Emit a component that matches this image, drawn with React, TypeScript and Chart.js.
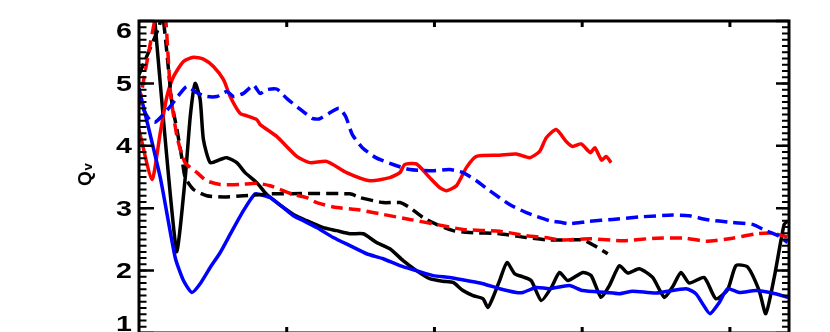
import React, { useEffect, useRef } from "react";
import { Chart, registerables } from "chart.js";

Chart.register(...registerables);

// ---- axis ticks ----
const X_MIN = 0;
const X_MAX = 440;
const Y_MIN = 1;
const Y_MAX = 6;
const X_MAJOR_TICKS = [100, 200, 300, 400];
const Y_MAJOR_TICKS = [1, 2, 3, 4, 5, 6];
const Y_TICK_LABELS = ["1", "2", "3", "4", "5", "6"];
const Y_MINOR_STEP = 0.1;

// ---- series: black solid ----
const blackSolidX = [0, 25.2, 31.3, 34.7, 38.0, 41.4, 43.6, 48.2, 55.0, 59.5, 66.2, 71.8, 79.7, 86.5, 104.5, 113.5, 124.7, 133.8, 142.8, 151.8, 160.8, 169.8, 178.8, 187.8, 196.8, 205.8, 212.6, 219.3, 226.1, 232.8, 236.2, 239.6, 244.1, 249.1, 254.3, 259.9, 265.5, 272.3, 279.1, 284.7, 290.3, 300.4, 306.1, 312.8, 318.4, 325.2, 330.8, 338.7, 347.7, 355.6, 361.2, 366.9, 372.5, 382.6, 390.5, 398.4, 404.1, 411.9, 419.8, 424.3, 430.0, 436.7, 439.4];
const blackSolidY = [9.0, 2.32, 3.49, 4.47, 5.0, 4.74, 4.10, 3.73, 3.78, 3.81, 3.73, 3.57, 3.41, 3.22, 2.90, 2.80, 2.69, 2.64, 2.59, 2.59, 2.45, 2.35, 2.16, 2.00, 1.87, 1.83, 1.81, 1.68, 1.60, 1.55, 1.41, 1.57, 1.84, 2.13, 1.95, 1.90, 1.84, 1.52, 1.73, 1.97, 1.84, 1.97, 1.92, 1.57, 1.76, 2.08, 1.96, 2.03, 1.89, 1.57, 1.74, 1.97, 1.80, 1.89, 1.55, 1.69, 2.08, 2.06, 1.68, 1.31, 1.89, 2.74, 2.80];

// ---- series: black dashed ----
const blackDashX = [0, 13.3, 16.0, 22.3, 25.7, 29.2, 31.3, 36.9, 45.9, 57.2, 70.7, 84.3, 88.7, 142.8, 149.5, 165.3, 176.6, 183.3, 192.3, 201.4, 212.6, 223.9, 244.1, 262.2, 277.9, 300.4, 308.3, 317.3];
const blackDashY = [5.14, 5.89, 6.1, 4.68, 4.26, 3.78, 3.49, 3.30, 3.20, 3.18, 3.20, 3.22, 3.23, 3.23, 3.17, 3.09, 3.09, 3.01, 2.85, 2.74, 2.64, 2.61, 2.59, 2.53, 2.49, 2.49, 2.40, 2.27];

// ---- series: red solid ----
const redSolidX = [0, 8.8, 14.4, 18.9, 23.4, 30.1, 36.9, 43.6, 50.4, 57.2, 61.7, 68.4, 73.0, 79.7, 82.0, 93.2, 106.8, 115.7, 127.0, 140.5, 156.3, 169.8, 176.6, 179.9, 187.8, 196.8, 203.6, 208.1, 214.9, 221.6, 228.4, 244.1, 255.4, 264.4, 271.2, 275.7, 282.4, 289.2, 293.6, 299.3, 305.6, 308.6, 313.2, 316.2, 319.6];
const redSolidY = [4.26, 3.46, 4.21, 4.79, 5.11, 5.35, 5.42, 5.39, 5.27, 5.06, 4.79, 4.52, 4.48, 4.42, 4.34, 4.15, 3.83, 3.73, 3.75, 3.57, 3.44, 3.49, 3.57, 3.70, 3.71, 3.49, 3.33, 3.28, 3.36, 3.65, 3.83, 3.85, 3.87, 3.81, 3.91, 4.13, 4.26, 4.07, 3.99, 4.03, 3.89, 3.97, 3.77, 3.83, 3.73];

// ---- series: red dashed ----
const redDashX = [0, 15.7, 21.4, 25.7, 31.2, 39.3, 45.7, 55.0, 68.4, 79.7, 88.7, 104.5, 113.5, 120.3, 131.5, 149.5, 165.3, 183.3, 199.1, 219.3, 244.1, 262.2, 277.9, 284.7, 305.6, 327.4, 350.0, 369.9, 383.8, 401.8, 417.6, 428.8, 438.9];
const redDashY = [4.65, 6.5, 4.84, 4.15, 3.73, 3.57, 3.44, 3.38, 3.38, 3.40, 3.36, 3.22, 3.17, 3.09, 3.02, 2.97, 2.90, 2.82, 2.75, 2.66, 2.63, 2.56, 2.52, 2.49, 2.51, 2.48, 2.52, 2.52, 2.47, 2.52, 2.59, 2.60, 2.54];

// ---- series: blue solid ----
const blueSolidX = [0, 14.4, 24.5, 30.1, 35.8, 41.4, 48.2, 55.0, 61.7, 70.7, 78.6, 82.0, 88.7, 97.7, 104.5, 111.2, 120.3, 131.5, 142.8, 154.1, 165.3, 176.6, 187.8, 199.1, 210.3, 221.6, 232.8, 244.1, 255.4, 259.9, 268.9, 277.9, 291.4, 300.4, 316.2, 325.2, 334.2, 350.0, 370.3, 377.0, 381.5, 386.5, 392.8, 398.4, 406.3, 417.6, 428.8, 439.4];
const blueSolidY = [4.92, 3.49, 2.21, 1.84, 1.65, 1.79, 2.05, 2.29, 2.58, 2.96, 3.23, 3.22, 3.17, 3.01, 2.88, 2.80, 2.69, 2.53, 2.40, 2.27, 2.19, 2.08, 2.00, 1.92, 1.89, 1.84, 1.79, 1.71, 1.65, 1.65, 1.73, 1.71, 1.76, 1.68, 1.65, 1.63, 1.67, 1.64, 1.71, 1.63, 1.47, 1.31, 1.49, 1.71, 1.65, 1.68, 1.64, 1.57];

// ---- series: blue dashed ----
const blueDashX = [0, 2.3, 7.6, 11.0, 14.4, 21.1, 27.9, 32.4, 39.2, 45.9, 52.7, 59.5, 64.0, 70.7, 77.5, 82.0, 86.5, 93.2, 100.0, 108.3, 117.3, 121.8, 128.6, 135.4, 139.9, 144.4, 151.2, 160.3, 172.0, 183.3, 199.1, 210.3, 219.3, 228.4, 237.4, 250.9, 262.2, 277.9, 286.3, 291.4, 304.9, 320.6, 338.7, 361.2, 372.5, 383.8, 401.8, 415.3, 424.3, 433.3, 438.9];
const blueDashY = [4.87, 4.62, 4.40, 4.38, 4.45, 4.63, 4.84, 4.95, 4.85, 4.79, 4.79, 4.87, 4.79, 4.84, 4.97, 4.84, 4.90, 4.91, 4.76, 4.60, 4.44, 4.43, 4.52, 4.60, 4.47, 4.18, 3.97, 3.81, 3.70, 3.62, 3.60, 3.62, 3.57, 3.44, 3.28, 3.06, 2.93, 2.80, 2.77, 2.75, 2.79, 2.82, 2.86, 2.89, 2.88, 2.82, 2.77, 2.74, 2.64, 2.55, 2.45];

const toPoints = (xs: number[], ys: number[]) => xs.map((x, i) => ({ x, y: ys[i] }));

const framePlugin = {
  id: "idlFrame",
  afterDatasetsDraw(chart: any) {
    const { ctx, chartArea } = chart;
    const xs = chart.scales.x;
    const ys = chart.scales.y;
    const { left, right, top, bottom } = chartArea;
    ctx.save();
    ctx.strokeStyle = "#000";
    ctx.fillStyle = "#000";
    // frame
    ctx.lineWidth = 3;
    ctx.strokeRect(left, top, right - left, bottom - top);
    // y minor ticks
    ctx.lineWidth = 2;
    ctx.beginPath();
    const nMinor = Math.round((Y_MAX - Y_MIN) / Y_MINOR_STEP);
    for (let i = 1; i < nMinor; i++) {
      const v = Y_MIN + i * Y_MINOR_STEP;
      const py = ys.getPixelForValue(v);
      ctx.moveTo(left, py);
      ctx.lineTo(left + 7.5, py);
      ctx.moveTo(right, py);
      ctx.lineTo(right - 7, py);
    }
    ctx.stroke();
    // y major ticks
    ctx.lineWidth = 2.5;
    ctx.beginPath();
    Y_MAJOR_TICKS.forEach((v) => {
      const py = ys.getPixelForValue(v);
      ctx.moveTo(left, py);
      ctx.lineTo(left + 15, py);
      ctx.moveTo(right, py);
      ctx.lineTo(right - 13, py);
    });
    ctx.stroke();
    // x major ticks
    ctx.lineWidth = 3;
    ctx.beginPath();
    X_MAJOR_TICKS.forEach((v) => {
      const px = xs.getPixelForValue(v);
      ctx.moveTo(px, top);
      ctx.lineTo(px, top + 6);
      ctx.moveTo(px, bottom);
      ctx.lineTo(px, bottom - 6);
    });
    ctx.stroke();
    // y tick labels
    ctx.font = "bold 22px 'Liberation Sans', Arial, sans-serif";
    ctx.textAlign = "right";
    ctx.textBaseline = "middle";
    Y_MAJOR_TICKS.forEach((v, i) => {
      let py = ys.getPixelForValue(v);
      py = Math.max(top + 9.5, Math.min(bottom - 10, py)) + 1.5;
      ctx.save();
      ctx.translate(132, py);
      ctx.scale(1.3, 1);
      ctx.fillText(Y_TICK_LABELS[i], 0, 0);
      ctx.restore();
    });
    // y axis title Q_v
    ctx.save();
    ctx.translate(90.5, 178.5);
    ctx.rotate(-Math.PI / 2);
    ctx.textBaseline = "alphabetic";
    ctx.textAlign = "center";
    ctx.font = "bold 19px 'Liberation Sans', Arial, sans-serif";
    ctx.fillText("Q", 0, 0);
    ctx.textAlign = "left";
    ctx.font = "bold 13px 'Liberation Sans', Arial, sans-serif";
    ctx.fillText("v", 8, 1.5);
    ctx.restore();
    ctx.restore();
  },
};

export default function App() {
  const ref = useRef<HTMLCanvasElement | null>(null);
  useEffect(() => {
    if (!ref.current) return;
    const mk = (xs: number[], ys: number[], color: string, dashed: boolean) => ({
      data: toPoints(xs, ys),
      borderColor: color,
      backgroundColor: color,
      borderWidth: 3.5,
      borderDash: dashed ? [12, 6] : [],
      pointRadius: 0,
      tension: 0.2,
      fill: false,
      clip: 0,
    });
    const chart = new Chart(ref.current, {
      type: "line",
      data: {
        datasets: [
          mk(blueDashX, blueDashY, "#0000ff", true),
          mk(redDashX, redDashY, "#ff0000", true),
          mk(blackDashX, blackDashY, "#000000", true),
          mk(blueSolidX, blueSolidY, "#0000ff", false),
          mk(redSolidX, redSolidY, "#ff0000", false),
          mk(blackSolidX, blackSolidY, "#000000", false),
        ] as any,
      },
      options: {
        responsive: false,
        animation: false,
        devicePixelRatio: 1,
        layout: { padding: { left: 139, top: 21, right: 41, bottom: 1 } },
        plugins: { legend: { display: false }, tooltip: { enabled: false } },
        scales: {
          x: { type: "linear", min: X_MIN, max: X_MAX, display: false },
          y: { type: "linear", min: Y_MIN, max: Y_MAX, display: false },
        },
      },
      plugins: [framePlugin],
    });
    return () => chart.destroy();
  }, []);
  return (
    <div style={{ position: "fixed", left: 0, top: 0, width: 830, height: 334, background: "#fff" }}>
      <canvas ref={ref} width={830} height={334} style={{ width: 830, height: 334, display: "block" }} />
    </div>
  );
}
